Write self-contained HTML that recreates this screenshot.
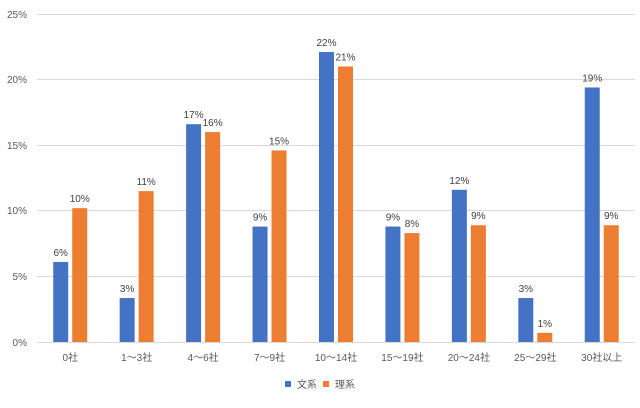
<!DOCTYPE html>
<html><head><meta charset="utf-8"><style>
body{margin:0;background:#fff}
text{font-family:"Liberation Sans","Noto Sans CJK JP",sans-serif;fill:#595959}
#labels text.d{fill:#404040}
</style></head><body>
<svg width="640" height="403" xmlns="http://www.w3.org/2000/svg">
<rect width="640" height="403" fill="#fff"/>
<g stroke="#d9d9d9" stroke-width="1">
<line x1="37" x2="635" y1="14.5" y2="14.5"/>
<line x1="37" x2="635" y1="79.5" y2="79.5"/>
<line x1="37" x2="635" y1="145.5" y2="145.5"/>
<line x1="37" x2="635" y1="210.5" y2="210.5"/>
<line x1="37" x2="635" y1="276.5" y2="276.5"/>
<line x1="37" x2="635" y1="342.5" y2="342.5"/>
</g>
<g font-size="10" text-anchor="end">
<text x="27" y="18">25%</text><text x="27" y="83">20%</text><text x="27" y="149">15%</text>
<text x="27" y="214">10%</text><text x="27" y="280">5%</text><text x="27" y="346">0%</text>
</g>
<g id="bars"></g>
<g font-size="10" text-anchor="middle" id="labels"></g>
<rect x="285" y="381" width="6" height="6" fill="#4472c4"/>
<text x="297" y="388" font-size="10">文系</text>
<rect x="323" y="381" width="6" height="6" fill="#ed7d31"/>
<text x="335" y="388" font-size="10">理系</text>
<script>
var cats=["0社","1〜3社","4〜6社","7〜9社","10〜14社","15〜19社","20〜24社","25〜29社","30社以上"];
var b=[6.1,3.35,16.6,8.8,22.1,8.8,11.6,3.35,19.4],o=[10.2,11.5,16.0,14.6,21.0,8.3,8.9,0.7,8.9];
var bl=["6%","3%","17%","9%","22%","9%","12%","3%","19%"],ol=["10%","11%","16%","15%","21%","8%","9%","1%","9%"];
var ns="http://www.w3.org/2000/svg",g=document.getElementById("bars"),L=document.getElementById("labels");
function el(t,a,p,txt){var e=document.createElementNS(ns,t);for(var k in a)e.setAttribute(k,a[k]);if(txt)e.textContent=txt;p.appendChild(e);}
for(var i=0;i<9;i++){var c=37+66.44*(i+0.5);
var hb=b[i]*13.12,ho=o[i]*13.12;
el("rect",{x:c-17,y:342-hb,width:15,height:hb,fill:"#4472c4"},g);
el("rect",{x:c+2,y:342-ho,width:15,height:ho,fill:"#ed7d31"},g);
el("text",{x:c-9.5,y:342-hb-6,"class":"d"},L,bl[i]);
el("text",{x:c+9.5,y:342-ho-6,"class":"d"},L,ol[i]);
el("text",{x:c,y:361},L,cats[i]);}
</script>
</svg>
</body></html>
